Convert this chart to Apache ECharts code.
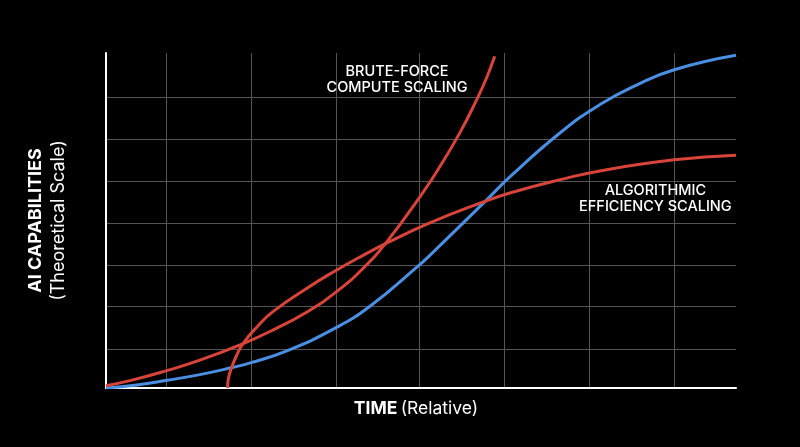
<!DOCTYPE html>
<html>
<head>
<meta charset="utf-8">
<script src="https://cdn.jsdelivr.net/npm/echarts@6/dist/echarts.min.js"></script>
<style>
  html, body { margin: 0; padding: 0; background: #000; }
  #chart { width: 800px; height: 447px; }
</style>
</head>
<body>
<div id="chart"></div>
<script>
// relative time (0-100) vs capability (0-100)
var blueX = [0, 4.9, 9.7, 14.9, 20.0, 22.9, 28.7, 36.3, 41.9, 49.8, 51.4, 56.7, 60.5, 64.1, 72.1, 78.4, 84.3, 90.2, 100]
var blueY = [0, 0.9, 2.3, 4.0, 6.1, 7.5, 11.1, 17.8, 24.4, 36.8, 39.6, 49.3, 56.3, 63.0, 76.2, 84.6, 90.5, 95.0, 99.3]

var bruteX = [0, 3.8, 9.5, 14.9, 21.7, 26.5, 31.9, 36.7, 40.8, 44.6, 49.8, 53.0, 56.2, 58.9, 60.5, 61.7]
var bruteY = [0.7, 2.2, 5.1, 8.3, 13.2, 17.3, 22.7, 28.9, 35.7, 43.7, 57.0, 66.1, 76.3, 86.3, 93.0, 99.0]

var algoX = [19.3, 19.4, 20.0, 20.8, 21.8, 24.0, 26.5, 31.9, 36.7, 40.8, 44.6, 51.4, 59.7, 64.1, 72.1, 78.4, 90.2, 100]
var algoY = [0, 2.5, 6.4, 10.0, 13.4, 18.3, 22.8, 29.8, 35.3, 39.6, 43.3, 49.3, 55.4, 58.2, 62.2, 64.8, 68.1, 69.5]

var xGridValues = [9.5, 23, 36.5, 49.8, 63.2, 76.7, 90.2]
var yGridValues = [11.6, 24.3, 36.7, 49.3, 61.8, 74.3, 86.7]

var bruteLabel = { x: 46.2, y: 92, text: 'BRUTE-FORCE\nCOMPUTE SCALING' }
var algoLabel = { x: 87.2, y: 56.5, text: 'ALGORITHMIC\nEFFICIENCY SCALING' }

function pairs(xs, ys) {
  var out = []
  for (var i = 0; i < xs.length; i++) out.push([xs[i], ys[i]])
  return out
}

var font = 'Inter, "Liberation Sans", sans-serif'
var red = '#d8443a'
var blue = '#4b8fe2'

function textPoint(lbl) {
  return {
    symbol: 'circle',
    symbolSize: 0,
    silent: true,
    label: {
      show: true,
      position: 'inside',
      formatter: lbl.text,
      color: '#fff',
      fontFamily: font,
      fontSize: 14.5,
      fontWeight: 500,
      lineHeight: 16,
      align: 'center'
    },
    data: [{ coord: [lbl.x, lbl.y] }]
  }
}

var myChart = echarts.init(document.getElementById('chart'))
var option = {
  backgroundColor: '#000',
  animation: false,
  grid: { left: 106, right: 64, top: 53, bottom: 59, outerBoundsMode: 'none' },
  xAxis: {
    type: 'value',
    min: 0,
    max: 100,
    name: '{b|TIME} {r|(Relative)}',
    nameLocation: 'middle',
    nameGap: 12,
    nameTextStyle: {
      color: '#fff',
      padding: [0, 10, 0, 0],
      rich: {
        b: { fontFamily: font, fontSize: 17.5, fontWeight: 'bold', color: '#fff' },
        r: { fontFamily: font, fontSize: 17.5, color: '#fff' }
      }
    },
    axisLine: { show: true, lineStyle: { color: '#fff', width: 2 } },
    axisTick: { show: false, customValues: xGridValues },
    axisLabel: { show: false },
    splitLine: { show: true, lineStyle: { color: '#555', width: 1 } }
  },
  yAxis: {
    type: 'value',
    min: 0,
    max: 100,
    name: '{b|AI CAPABILITIES}\n{r|(Theoretical Scale)}',
    nameLocation: 'middle',
    nameRotate: 90,
    nameGap: 36,
    nameTextStyle: {
      color: '#fff',
      rich: {
        b: { fontFamily: font, fontSize: 18, fontWeight: 'bold', color: '#fff', lineHeight: 23 },
        r: { fontFamily: font, fontSize: 18, color: '#fff', lineHeight: 23 }
      }
    },
    axisLine: { show: true, lineStyle: { color: '#fff', width: 2 } },
    axisTick: { show: false, customValues: yGridValues },
    axisLabel: { show: false },
    splitLine: { show: true, lineStyle: { color: '#555', width: 1 } }
  },
  series: [
    {
      name: 'blue',
      type: 'line',
      data: pairs(blueX, blueY),
      smooth: true,
      showSymbol: false,
      lineStyle: { color: blue, width: 3 },
      z: 3
    },
    {
      name: 'brute',
      type: 'line',
      data: pairs(bruteX, bruteY),
      smooth: true,
      showSymbol: false,
      lineStyle: { color: red, width: 3 },
      markPoint: textPoint(bruteLabel),
      z: 4
    },
    {
      name: 'algo',
      type: 'line',
      data: pairs(algoX, algoY),
      smooth: true,
      showSymbol: false,
      lineStyle: { color: red, width: 3 },
      markPoint: textPoint(algoLabel),
      z: 4
    }
  ]
}
myChart.setOption(option)
</script>
</body>
</html>
